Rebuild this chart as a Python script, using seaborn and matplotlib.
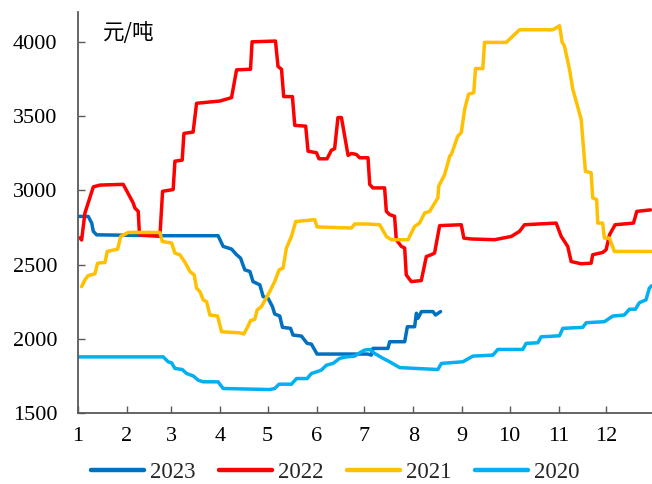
import matplotlib
matplotlib.use("Agg")
import matplotlib.pyplot as plt
import seaborn as sns
import pandas as pd

# Daily price series (day of year, yuan per tonne)
years = ["2023", "2022", "2021", "2020"]

days_2023 = [1.2, 7.5, 9.7, 10.7, 12.8, 52.8, 89.6, 92.8, 98.1, 101.3, 103.8, 106.5, 109.7, 111.7,
             116.0, 118.1, 121.2, 124.0, 125.4, 128.6, 130.3, 135.4, 137.0, 142.3, 145.9, 148.6,
             152.2, 184.2, 186.5, 187.5, 197.0, 198.1, 207.6, 209.3, 213.9, 215.0, 216.0, 218.2,
             225.5, 227.1, 230.3]
price_2023 = [2824, 2824, 2779, 2723, 2700, 2694, 2694, 2622, 2604, 2566, 2543, 2464, 2453, 2385,
              2363, 2284, 2273, 2216, 2167, 2153, 2077, 2070, 2025, 2018, 1969, 1964,
              1897, 1897, 1890, 1935, 1935, 1980, 1980, 2081, 2081, 2172, 2138, 2183,
              2183, 2160, 2183]

days_2022 = [2.3, 3.3, 5.4, 10.7, 14.9, 29.6, 35.9, 37.0, 39.1, 39.9, 52.8, 54.5, 61.2, 62.3,
             66.9, 68.0, 73.8, 76.0, 90.7, 98.1, 101.3, 110.1, 111.1, 125.9, 127.5, 129.7,
             131.1, 136.6, 138.1, 145.0, 146.5, 151.8, 153.4, 158.5, 161.3, 163.3, 165.4,
             167.6, 171.8, 173.9, 177.1, 179.1, 184.4, 185.5, 187.5, 194.9, 196.0, 198.1,
             201.2, 202.3, 205.5, 207.6, 208.6, 211.8, 218.1, 221.3, 224.4, 226.5, 229.7,
             243.4, 245.0, 249.7, 264.4, 275.0, 280.2, 283.4, 303.4, 306.6, 310.7, 312.9,
             319.2, 325.5, 326.5, 332.8, 335.0, 337.1, 340.7, 352.3, 354.4, 363.0]
price_2022 = [2680, 2665, 2847, 3023, 3035, 3040, 2915, 2880, 2858, 2700, 2690, 2993, 3005, 3196,
              3203, 3383, 3392, 3586, 3601, 3624, 3811, 3815, 4000, 4005, 3834, 3815,
              3631, 3631, 3437, 3432, 3263, 3253, 3212, 3212, 3270, 3280, 3490,
              3490, 3235, 3248, 3241, 3219, 3219, 3039, 3016, 3016, 2858, 2836,
              2825, 2667, 2622, 2611, 2430, 2385, 2392, 2554, 2566, 2577, 2762,
              2768, 2678, 2672, 2667, 2689, 2723, 2768, 2779, 2689, 2622, 2520,
              2505, 2509, 2566, 2581, 2600, 2700, 2768, 2779, 2858, 2868]

days_2021 = [3.3, 5.4, 7.5, 11.7, 13.4, 18.1, 19.5, 26.1, 28.0, 32.8, 52.8, 54.3, 60.2, 62.3,
             65.4, 69.0, 71.8, 74.5, 76.0, 78.1, 80.2, 82.3, 84.4, 89.3, 91.8, 103.3, 105.9,
             108.6, 110.1, 112.8, 114.3, 117.0, 122.3, 125.4, 128.2, 130.7, 132.8, 136.0,
             138.7, 150.7, 152.2, 173.9, 176.0, 184.2, 191.8, 196.0, 199.2, 209.7, 213.9,
             217.0, 220.2, 223.4, 228.6, 229.1, 232.9, 236.1, 237.1, 241.2, 243.4, 245.5,
             248.0, 251.3, 252.4, 257.0, 258.1, 271.8, 280.2, 301.3, 305.5, 307.2, 308.6,
             311.8, 313.9, 316.0, 319.2, 321.9, 325.5, 326.5, 329.0, 329.7, 332.8, 333.9,
             337.1, 340.2, 363.6]
price_2021 = [2351, 2397, 2426, 2437, 2509, 2514, 2588, 2604, 2689, 2716, 2716, 2655, 2645, 2577,
              2566, 2509, 2453, 2430, 2340, 2318, 2262, 2250, 2160, 2153, 2047, 2040, 2032,
              2086, 2122, 2131, 2194, 2216, 2318, 2385, 2464, 2476, 2611, 2689,
              2790, 2802, 2753, 2746, 2773, 2773, 2768, 2689, 2667, 2667, 2757,
              2779, 2847, 2858, 2949, 3027, 3106, 3230, 3241, 3365, 3388, 3545,
              3647, 3658, 3820, 3820, 3996, 3996, 4081, 4081, 4108, 3996, 3973,
              3816, 3681, 3601, 3478, 3128, 3118, 2949, 2937, 2779, 2779, 2678,
              2678, 2588, 2588]

days_2020 = [1.2, 54.9, 58.0, 60.2, 62.3, 66.9, 69.7, 73.8, 77.0, 80.2, 89.6, 92.8, 122.3, 125.4,
             128.2, 136.0, 139.2, 145.9, 148.6, 151.8, 154.9, 158.1, 162.3, 166.5, 170.7,
             176.0, 179.1, 182.3, 185.5, 188.6, 193.9, 198.1, 204.4, 215.0, 228.6, 230.8,
             244.4, 250.7, 263.4, 266.5, 282.3, 284.4, 291.8, 293.9, 305.5, 307.6, 320.2,
             322.4, 333.9, 339.2, 346.5, 349.7, 353.5, 356.0, 360.2, 362.3, 363.6]
price_2020 = [1878, 1878, 1845, 1838, 1800, 1793, 1766, 1750, 1721, 1710, 1710, 1665, 1658, 1665,
              1694, 1694, 1732, 1732, 1766, 1777, 1789, 1822, 1834, 1868, 1878,
              1883, 1905, 1924, 1928, 1901, 1868, 1845, 1806, 1800, 1793, 1834,
              1845, 1883, 1890, 1928, 1928, 1969, 1973, 2013, 2020, 2070, 2077,
              2108, 2115, 2153, 2160, 2199, 2199, 2243, 2262, 2340, 2356]

month_starts = [1, 32, 60, 91, 121, 152, 182, 213, 244, 274, 305, 335]
month_labels = [str(m) for m in range(1, 13)]
y_ticks = [1500, 2000, 2500, 3000, 3500, 4000]
unit_label = "元/吨"

colors = {"2023": "#0070C0", "2022": "#FF0000", "2021": "#FFC000", "2020": "#00B0F0"}

frames = []
for yr, d, p in [("2023", days_2023, price_2023), ("2022", days_2022, price_2022),
                 ("2021", days_2021, price_2021), ("2020", days_2020, price_2020)]:
    frames.append(pd.DataFrame({"day": d, "price": p, "year": yr}))
df = pd.concat(frames, ignore_index=True)

sns.set_theme(style="ticks")
plt.rcParams["font.family"] = ["Liberation Serif", "Noto Sans CJK SC"]

fig = plt.figure(figsize=(6.52, 4.84), dpi=100)
ax = fig.add_axes([0.1196, 0.1467, 0.8804, 0.8283])

sns.lineplot(data=df, x="day", y="price", hue="year", hue_order=years,
             palette=colors, sort=False, estimator=None, linewidth=2.5,
             ax=ax, legend=False)

ax.set_xlim(1, 364)
ax.set_ylim(1500, 4200)
ax.set_xticks(month_starts)
ax.set_xticklabels(month_labels)
ax.set_yticks(y_ticks)
ax.set_xlabel("")
ax.set_ylabel("")

for side in ["top", "right"]:
    ax.spines[side].set_visible(False)
for side in ["left", "bottom"]:
    ax.spines[side].set_color("#595959")
    ax.spines[side].set_linewidth(1.3)

ax.tick_params(axis="both", direction="in", length=5, width=1.0, color="#595959",
               labelsize=16, labelcolor="black")
ax.tick_params(axis="x", pad=10)
ax.tick_params(axis="y", pad=15)

ax.text(0.044, 0.947, unit_label, transform=ax.transAxes, ha="left", va="center",
        fontsize=15.5, family=["Noto Sans CJK SC", "DejaVu Sans"], color="black")

handles = [plt.Line2D([], [], color=colors[y], linewidth=3.2) for y in years]
fig.legend(handles, years, loc="center", bbox_to_anchor=(0.514, 0.023), ncol=4,
           frameon=False, fontsize=16.5, handlelength=2.3, handletextpad=0.25,
           columnspacing=1.05)

fig.savefig("out.png", dpi=100)
